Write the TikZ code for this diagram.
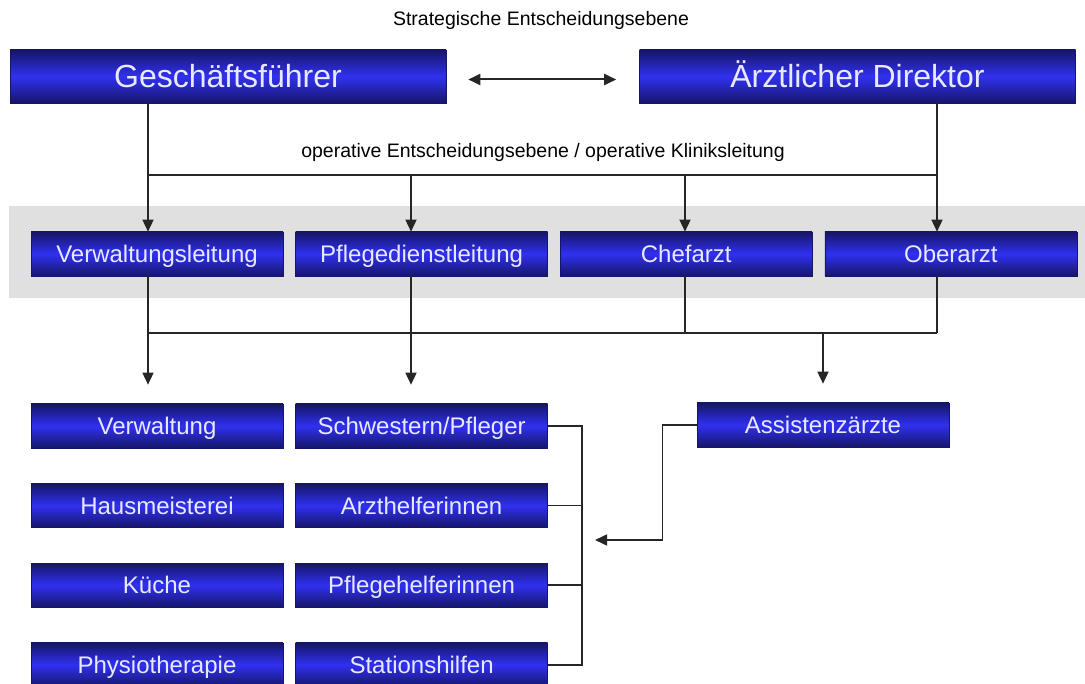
\documentclass[tikz,border=0pt]{standalone}
\usepackage{fontspec}
\setmainfont{Liberation Sans}
\usetikzlibrary{positioning,arrows.meta}
\definecolor{boxdark}{RGB}{22,22,105}
\definecolor{boxblue}{RGB}{48,48,240}
\definecolor{boxtext}{RGB}{232,232,255}
\definecolor{bandgray}{RGB}{224,224,224}
\tikzset{
every picture/.style={
line width=1.5pt
}}
\tikzset{
  orgbox/.style={rectangle, draw=boxdark, line width=0.6pt,
    top color=boxdark, bottom color=boxdark, middle color=boxblue,
    text=boxtext, minimum width=252pt, minimum height=44pt, inner sep=0pt,
    text height=17pt, text depth=0pt,
    font=\fontsize{24}{28}\selectfont},
  headbox/.style={orgbox, minimum width=436pt, minimum height=53pt,
    text height=23pt, font=\fontsize{32}{36}\selectfont},
  conn/.style={draw=black!85},
  arr/.style={conn, -{Triangle[length=12pt,width=11pt]}},
  levellabel/.style={font=\fontsize{19.5}{23}\selectfont}
}

\begin{document}
\begin{tikzpicture}[x=1pt, y=-1pt, align=center]
\useasboundingbox (0,0) rectangle (1085,684);
% grey band behind the clinic management
\fill[bandgray] (9,206) rectangle (1085,298);
%
\node[levellabel] (strat) at (541,20) {Strategische Entscheidungsebene};
\node[headbox] (gf) at (228,76.5) {Geschäftsführer};
\node[headbox] (aed) at (857.5,76.5) {Ärztlicher Direktor};
\draw[conn, line width=2pt, {Triangle[length=12pt,width=11pt]}-{Triangle[length=12pt,width=11pt]},
  shorten <=22pt, shorten >=23pt] ([yshift=-3pt]gf.east) -- ([yshift=-3pt]aed.west);
\node[levellabel] (oper) at (543,152) {operative Entscheidungsebene / operative Kliniksleitung};
%
% operative level:
\node[orgbox] (vl) at (157,254) {Verwaltungsleitung};
\node[orgbox, right=12pt of vl] (pdl) {Pflegedienstleitung};
\node[orgbox, right=12pt of pdl] (cha) {Chefarzt};
\node[orgbox, right=12pt of cha] (oa) {Oberarzt};
%
% staff:
\node[orgbox] (verw) at (157,426) {Verwaltung};
\node[orgbox, below=35pt of verw] (haus) {Hausmeisterei};
\node[orgbox, below=35pt of haus] (kueche) {Küche};
\node[orgbox, below=35pt of kueche] (physio) {Physiotherapie};
\node[orgbox, right=12pt of verw] (schw) {Schwestern/Pfleger};
\node[orgbox, right=12pt of haus] (arzth) {Arzthelferinnen};
\node[orgbox, right=12pt of kueche] (pflh) {Pflegehelferinnen};
\node[orgbox, right=12pt of physio] (stat) {Stationshilfen};
\node[orgbox] (assi) at (823,425) {Assistenzärzte};
%
% upper bus:
\coordinate (busa) at (148,175);
\coordinate (busb) at (937,175);
\draw[conn] (gf.south -| busa) -- (busa) -- (busb) -- (aed.south -| busb);
\foreach \n/\x in {vl/148,pdl/411,cha/685,oa/937}
  \draw[arr] (\x,175) -- (\n.north -| \x,0);
%
% lower bus:
\coordinate (busc) at (148,333);
\coordinate (busd) at (937,333);
\foreach \n/\x in {vl/148,cha/685,oa/937}
  \draw[conn] (\n.south -| \x,0) -- (\x,333);
\draw[conn] (busc) -- (busd);
\draw[arr, shorten >=19pt] (busc) -- (verw.north -| busc);
\draw[arr, shorten >=19pt] (pdl.south -| 411,0) -- (schw.north -| 411,0);
\draw[arr, shorten >=19pt] (823,333) -- (assi.north);
%
% bracket and assistants:
\coordinate (br) at (582,0);
\draw[conn] (schw.east) -- (schw.east -| br) -- (stat.east -| br) -- (stat.east);
\foreach \n in {arzth,pflh}
  \draw[conn] (\n.east) -- (\n.east -| br);
\draw[arr] (assi.west) -- ++(-34,0) |- (595,540);
\end{tikzpicture}
\end{document}
